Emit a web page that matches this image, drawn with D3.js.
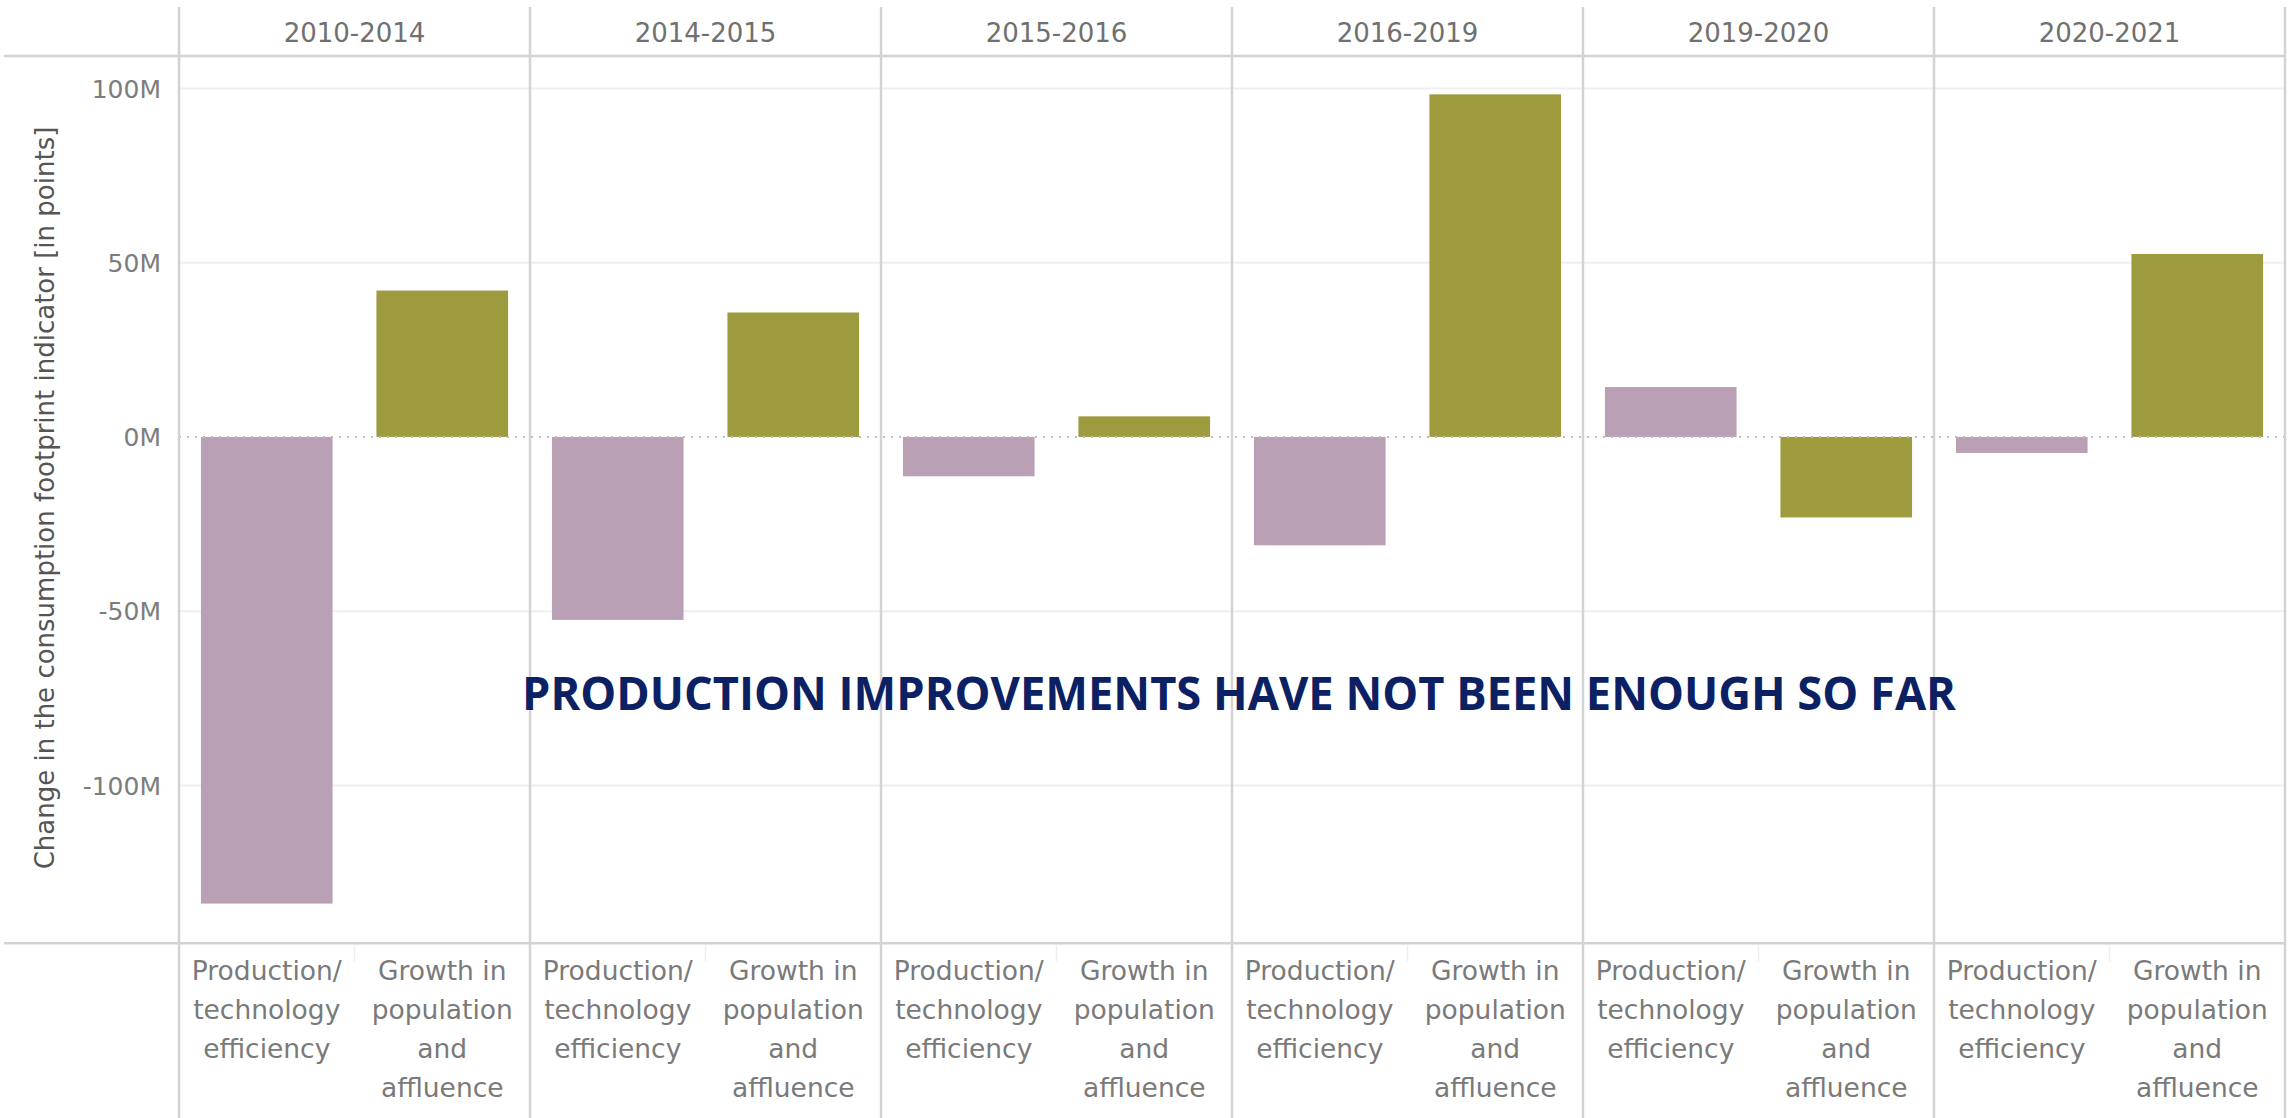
<!DOCTYPE html>
<html>
<head>
<meta charset="utf-8">
<script src="https://cdn.jsdelivr.net/npm/d3@7"></script>
<style>
  html, body { margin: 0; padding: 0; background: #fff; }
  svg { display: block; }
</style>
</head>
<body>
<svg id="chart" width="2292" height="1118"></svg>
<script>
// ---- data ----
const periods = ["2010-2014", "2014-2015", "2015-2016", "2016-2019", "2019-2020", "2020-2021"];
const drivers = ["efficiency", "growth"];
const driverLabels = [
  ["Production/", "technology", "efficiency"],
  ["Growth in", "population", "and", "affluence"]
];
const efficiencyValues = [-133.9, -52.5, -11.3, -31.1, 14.3, -4.6]; // millions of points
const growthValues = [42.0, 35.7, 5.9, 98.3, -23.1, 52.5];           // millions of points
const yTicks = [100, 50, 0, -50, -100];
const yTitle = "Change in the consumption footprint indicator [in points]";
const annotation = "PRODUCTION IMPROVEMENTS HAVE NOT BEEN ENOUGH SO FAR";

// ---- layout ----
const W = 2292, H = 1118;
const plotLeft = 179, plotRight = 2285, plotTop = 56, plotBottom = 943.3;
const colors = { efficiency: "#b9a0b4", growth: "#9e9b3e" };
const font = "'DejaVu Sans', sans-serif";
const boldFont = "'Open Sans', sans-serif";

const svg = d3.select("#chart");

const x0 = d3.scaleBand().domain(periods).range([plotLeft, plotRight]).padding(0);
const x1 = d3.scaleBand().domain(drivers).range([0, x0.bandwidth()])
  .paddingInner(0.25).paddingOuter(0.125);
const y = d3.scaleLinear().domain([-145.3, 109.3]).range([plotBottom, plotTop]);

// gridlines
svg.append("g").selectAll("line")
  .data(yTicks.filter(d => d !== 0))
  .join("line")
  .attr("x1", plotLeft).attr("x2", plotRight)
  .attr("y1", d => y(d)).attr("y2", d => y(d))
  .attr("stroke", "#efefef").attr("stroke-width", 2);

// bars
const rows = [];
periods.forEach((p, i) => {
  rows.push({ period: p, driver: "efficiency", value: efficiencyValues[i] });
  rows.push({ period: p, driver: "growth", value: growthValues[i] });
});
svg.append("g").selectAll("rect")
  .data(rows)
  .join("rect")
  .attr("x", d => x0(d.period) + x1(d.driver))
  .attr("width", x1.bandwidth())
  .attr("y", d => y(Math.max(0, d.value)))
  .attr("height", d => Math.abs(y(d.value) - y(0)))
  .attr("fill", d => colors[d.driver]);

// zero line dotted
svg.append("line")
  .attr("x1", plotLeft).attr("x2", plotRight)
  .attr("y1", y(0)).attr("y2", y(0))
  .attr("stroke", "#bdbdbd").attr("stroke-width", 2)
  .attr("stroke-dasharray", "2,6");

// header & bottom horizontal lines
svg.append("line").attr("x1", 4).attr("x2", plotRight).attr("y1", plotTop).attr("y2", plotTop)
  .attr("stroke", "#d3d3d3").attr("stroke-width", 2.5);
svg.append("line").attr("x1", 4).attr("x2", plotRight).attr("y1", plotBottom).attr("y2", plotBottom)
  .attr("stroke", "#d3d3d3").attr("stroke-width", 2.5);

// vertical dividers
const bounds = periods.map(p => x0(p)).concat([plotRight]);
svg.append("g").selectAll("line")
  .data(bounds)
  .join("line")
  .attr("x1", d => d).attr("x2", d => d)
  .attr("y1", 7).attr("y2", H)
  .attr("stroke", "#d3d3d3").attr("stroke-width", 2.5);

// faint ticks between sub-categories
svg.append("g").selectAll("line")
  .data(periods)
  .join("line")
  .attr("x1", p => x0(p) + x0.bandwidth() / 2).attr("x2", p => x0(p) + x0.bandwidth() / 2)
  .attr("y1", plotBottom + 2).attr("y2", plotBottom + 18)
  .attr("stroke", "#eeeeee").attr("stroke-width", 1.5);

// period headers
svg.append("g").selectAll("text")
  .data(periods)
  .join("text")
  .attr("x", p => x0(p) + x0.bandwidth() / 2)
  .attr("y", 42)
  .attr("text-anchor", "middle")
  .attr("font-family", font).attr("font-size", 26)
  .attr("fill", "#707070")
  .text(p => p);

// y axis
const yAxis = d3.axisLeft(y).tickValues(yTicks).tickFormat(d => d + "M").tickSize(0).tickPadding(0);
const ga = svg.append("g").attr("transform", `translate(161,0)`).call(yAxis);
ga.select(".domain").remove();
ga.selectAll("text")
  .attr("font-family", font).attr("font-size", 25)
  .attr("fill", "#7d7d7d").attr("dy", "0.35em");

// y title
svg.append("text")
  .attr("transform", `translate(54,498) rotate(-90)`)
  .attr("text-anchor", "middle")
  .attr("font-family", font).attr("font-size", 26)
  .attr("fill", "#555")
  .text(yTitle);

// bottom category labels
const labelG = svg.append("g");
periods.forEach(p => {
  drivers.forEach((d, j) => {
    const cx = x0(p) + x1(d) + x1.bandwidth() / 2;
    const t = labelG.append("text")
      .attr("text-anchor", "middle")
      .attr("font-family", font).attr("font-size", 26.5)
      .attr("fill", "#7a7a7a");
    driverLabels[j].forEach((line, k) => {
      t.append("tspan").attr("x", cx).attr("y", 980 + k * 39).text(line);
    });
  });
});

// annotation
svg.append("text")
  .attr("x", 1239).attr("y", 710)
  .attr("text-anchor", "middle")
  .attr("font-family", boldFont).attr("font-weight", 700).attr("font-size", 46)
  .attr("fill", "#0c2163")
  .attr("textLength", 1434).attr("lengthAdjust", "spacingAndGlyphs")
  .text(annotation);
</script>
</body>
</html>
